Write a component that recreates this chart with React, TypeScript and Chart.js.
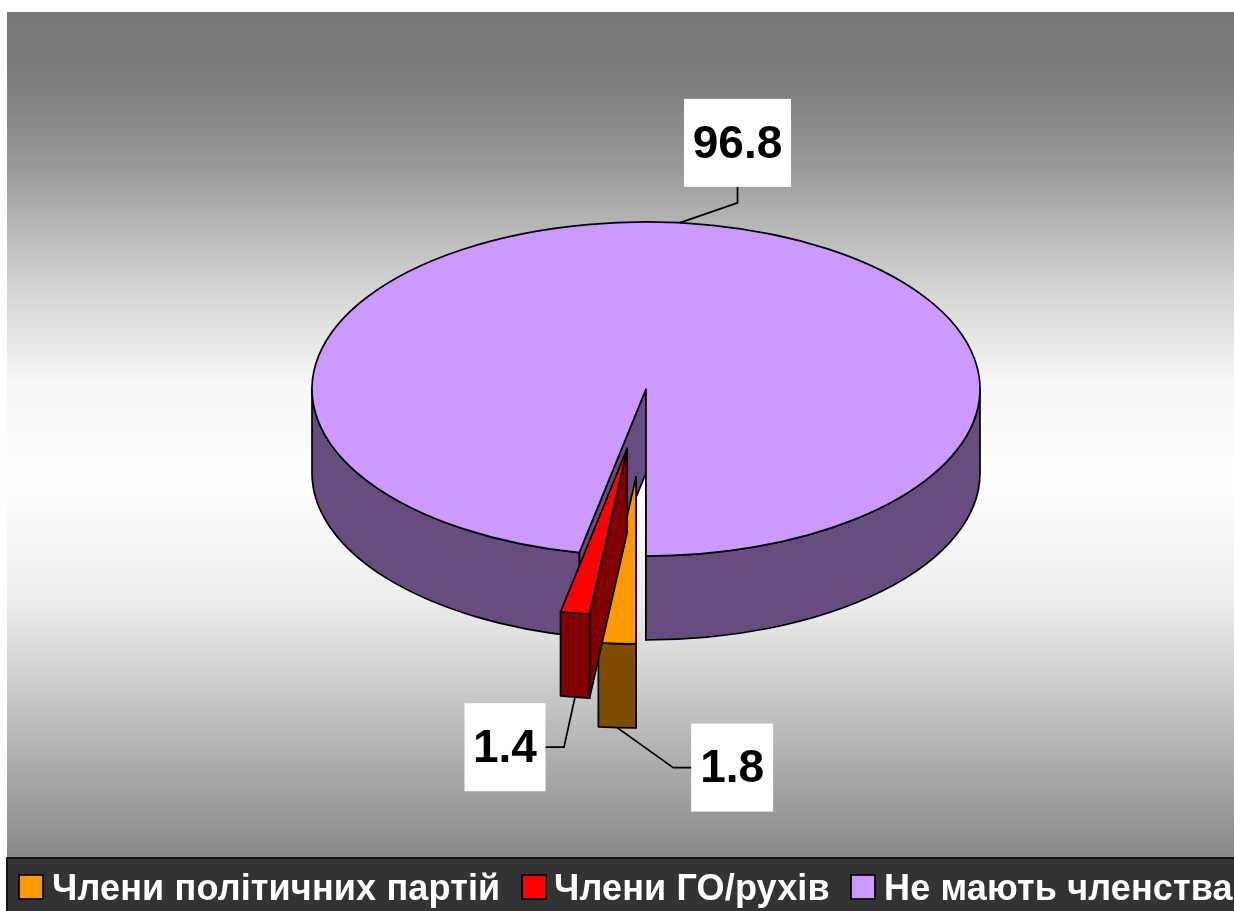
import { useEffect, useRef } from "react";
import { Chart, registerables } from "chart.js";

Chart.register(...registerables);

const categories = ["Члени політичних партій", "Члени ГО/рухів", "Не мають членства"];
const shares = [1.8, 1.4, 96.8];
const topColors = ["#FF9900", "#FF0000", "#CC99FF"];
const sideColors = ["#7F4D00", "#800000", "#664D80"];
const explosion = [176, 120, 0];
const paintOrder = [2, 0, 1];

const WIDTH = 1234;
const HEIGHT = 911;
const TILT = 0.5;
const DEPTH = 84;
const FONT = '"Liberation Sans", Arial, sans-serif';

// background shading, read down the plot: [page y, grey level]
const shadeStops = [
  [12, 0x76],
  [55, 0x7a],
  [90, 0x80],
  [165, 0x98],
  [250, 0xc2],
  [300, 0xd8],
  [384, 0xf7],
  [483, 0xff],
  [603, 0xec],
  [636, 0xe0],
  [727, 0xbb],
  [806, 0x9c],
  [857, 0x88],
];

// label box centre and leader elbow, both relative to the slice's rim anchor
const labelOffsets = [
  [115, 40],
  [-70, 50],
  [58, -80],
];
const elbowOffsets = [
  [56, 40],
  [-11, 50],
  [58, -20],
];
const labelBoxSizes = [
  [82, 88],
  [81, 88],
  [107, 88],
];
const legendBoxX = [19, 522, 851];
const legendTextX = [52, 554, 884];

function strokeSoft(ctx: CanvasRenderingContext2D) {
  ctx.strokeStyle = "#000";
  ctx.lineWidth = 1.7;
  ctx.lineJoin = "round";
  ctx.stroke();
}

function drawWalls(ctx: CanvasRenderingContext2D, ox: number, oy: number, r: number, s: number, e: number, color: string) {
  const ry = r * TILT;
  ctx.fillStyle = color;
  const face = (a: number) => {
    ctx.beginPath();
    ctx.moveTo(ox, oy);
    ctx.lineTo(ox + Math.cos(a) * r, oy + Math.sin(a) * ry);
    ctx.lineTo(ox + Math.cos(a) * r, oy + Math.sin(a) * ry + DEPTH);
    ctx.lineTo(ox, oy + DEPTH);
    ctx.closePath();
    ctx.fill();
    strokeSoft(ctx);
  };
  if (Math.cos(s) < 1e-6) face(s);
  if (Math.cos(e) > -1e-6) face(e);
  for (let k = 0; k < 2; k++) {
    const lo = Math.max(s, 2 * Math.PI * k);
    const hi = Math.min(e, Math.PI + 2 * Math.PI * k);
    if (hi <= lo) continue;
    ctx.beginPath();
    ctx.ellipse(ox, oy, r, ry, 0, lo, hi);
    ctx.ellipse(ox, oy + DEPTH, r, ry, 0, hi, lo, true);
    ctx.closePath();
    ctx.fill();
    strokeSoft(ctx);
  }
}

const pie3d = {
  id: "pie3d",
  beforeDraw(chart: any) {
    const ctx = chart.ctx as CanvasRenderingContext2D;
    const top = shadeStops[0][0];
    const bottom = shadeStops[shadeStops.length - 1][0];
    const g = ctx.createLinearGradient(0, top, 0, bottom);
    shadeStops.forEach(([y, v]) => g.addColorStop((y - top) / (bottom - top), `rgb(${v},${v},${v})`));
    ctx.save();
    ctx.fillStyle = "#FFFFFF";
    ctx.fillRect(0, 0, WIDTH, HEIGHT);
    ctx.fillStyle = g;
    ctx.fillRect(7, top, WIDTH - 7, bottom - top);
    ctx.restore();
  },
  beforeDatasetDraw(chart: any) {
    const ctx = chart.ctx as CanvasRenderingContext2D;
    const arcs = chart.getDatasetMeta(0).data;
    paintOrder.forEach((i) => {
      const arc = arcs[i];
      const { x, y, startAngle: s, endAngle: e, outerRadius: r } = arc;
      const mid = (s + e) / 2;
      const ox = x + Math.cos(mid) * explosion[i];
      const oy = y + Math.sin(mid) * explosion[i] * TILT;
      ctx.save();
      drawWalls(ctx, ox, oy, r, s, e, sideColors[i]);
      ctx.save();
      ctx.translate(ox, oy);
      ctx.scale(1, TILT);
      ctx.translate(-x, -y);
      arc.draw(ctx);
      ctx.restore();
      ctx.beginPath();
      ctx.moveTo(ox, oy);
      ctx.ellipse(ox, oy, r, r * TILT, 0, s, e);
      ctx.closePath();
      strokeSoft(ctx);
      ctx.restore();
    });
    return false;
  },
  afterDraw(chart: any) {
    const ctx = chart.ctx as CanvasRenderingContext2D;
    const arcs = chart.getDatasetMeta(0).data;
    ctx.save();
    // data labels with leaders
    arcs.forEach((arc: any, i: number) => {
      const { x, y, startAngle: s, endAngle: e, outerRadius: r } = arc;
      const mid = (s + e) / 2;
      const ox = x + Math.cos(mid) * explosion[i];
      const oy = y + Math.sin(mid) * explosion[i] * TILT;
      const front = Math.sin(mid) > 0 ? DEPTH : 0;
      const ax = ox + Math.cos(mid) * r;
      const ay = oy + Math.sin(mid) * r * TILT + front;
      const cx = ax + labelOffsets[i][0];
      const cy = ay + labelOffsets[i][1];
      const [bw, bh] = labelBoxSizes[i];
      ctx.beginPath();
      ctx.moveTo(ax, ay);
      ctx.lineTo(ax + elbowOffsets[i][0], ay + elbowOffsets[i][1]);
      ctx.lineTo(cx, cy);
      ctx.strokeStyle = "#000";
      ctx.lineWidth = 1.7;
      ctx.stroke();
      ctx.fillStyle = "#FFFFFF";
      ctx.fillRect(cx - bw / 2, cy - bh / 2, bw, bh);
      ctx.fillStyle = "#000";
      ctx.font = `bold 46px ${FONT}`;
      ctx.textAlign = "center";
      ctx.textBaseline = "middle";
      ctx.fillText(String(shares[i]), cx, cy + 2);
    });
    // legend strip
    ctx.fillStyle = "#333333";
    ctx.fillRect(7, 857, WIDTH - 7, HEIGHT - 857);
    ctx.strokeStyle = "#111";
    ctx.lineWidth = 2;
    ctx.beginPath();
    ctx.moveTo(7, HEIGHT);
    ctx.lineTo(7, 858);
    ctx.lineTo(WIDTH, 858);
    ctx.stroke();
    (ctx as any).letterSpacing = "0.15px";
    categories.forEach((name, i) => {
      ctx.fillStyle = topColors[i];
      ctx.fillRect(legendBoxX[i], 875, 24, 24);
      ctx.strokeStyle = "#000";
      ctx.lineWidth = 1.7;
      ctx.strokeRect(legendBoxX[i], 875, 24, 24);
      ctx.fillStyle = "#FFFFFF";
      ctx.font = `bold 36px ${FONT}`;
      ctx.textAlign = "left";
      ctx.textBaseline = "alphabetic";
      ctx.fillText(name, legendTextX[i], 900);
    });
    ctx.restore();
  },
};

export default function App() {
  const ref = useRef<HTMLCanvasElement>(null);
  useEffect(() => {
    const chart = new Chart(ref.current!, {
      type: "pie",
      data: {
        labels: categories,
        datasets: [{ data: shares, backgroundColor: topColors, borderWidth: 0 }],
      },
      options: {
        responsive: false,
        animation: false,
        devicePixelRatio: 1,
        rotation: 180,
        radius: 334,
        layout: { padding: { left: 58, bottom: 133 } },
        plugins: { legend: { display: false }, tooltip: { enabled: false } },
      },
      plugins: [pie3d],
    } as any);
    return () => chart.destroy();
  }, []);
  return (
    <canvas
      ref={ref}
      width={WIDTH}
      height={HEIGHT}
      style={{ position: "fixed", left: 0, top: 0, display: "block" }}
    />
  );
}
